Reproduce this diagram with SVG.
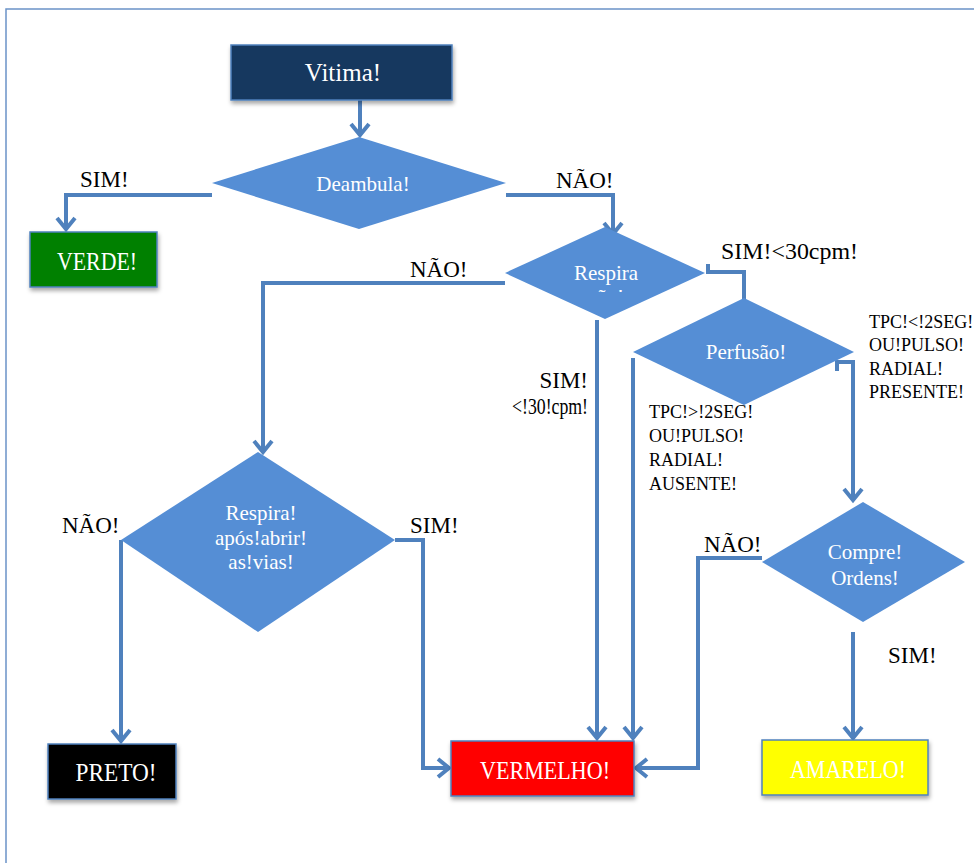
<svg xmlns="http://www.w3.org/2000/svg" width="974" height="863" viewBox="0 0 974 863">
<defs>
<style>
.box{stroke:#4f81bd;stroke-width:1.5;filter:url(#sh)}
.dia{fill:#558ed5;stroke:none}
.wt{fill:#ffffff;font-family:"Liberation Serif","DejaVu Serif",serif;text-anchor:middle}
.dt{font-size:21px}
.bt{font-size:25px}
.lb{fill:#000000;font-family:"Liberation Serif","DejaVu Serif",serif;font-size:23px}
.sm{fill:#000000;font-family:"Liberation Serif","DejaVu Serif",serif;font-size:18px}
.cn{fill:none;stroke:#4f81bd;stroke-width:4;stroke-linejoin:miter}
.ca{fill:none;stroke:#4f81bd;stroke-width:4;marker-end:url(#ah)}
</style>
<marker id="ah" markerUnits="userSpaceOnUse" markerWidth="24" markerHeight="24" viewBox="-13 -12 16 24" refX="0" refY="0" orient="auto">
<path d="M-11,-9 L0,0 L-11,9" fill="none" stroke="#4f81bd" stroke-width="4"/>
</marker>
<filter id="sh" x="-10%" y="-10%" width="130%" height="140%">
<feDropShadow dx="1" dy="3" stdDeviation="2" flood-color="#000" flood-opacity="0.35"/>
</filter>
<clipPath id="rc"><rect x="540" y="240" width="140" height="52"/></clipPath>
</defs>
<rect x="6" y="9" width="990" height="880" fill="#ffffff" stroke="#6b93c8" stroke-width="1.5"/>

<g id="connectors">
<path class="ca" d="M360,100 L360,135"/>
<path class="ca" d="M212,195 L66,195 L66,229"/>
<path class="ca" d="M506,195 L613,195 L613,234"/>
<path class="ca" d="M505,283 L263,283 L263,452"/>
<path class="ca" d="M597,320 L597,738"/>
<path class="cn" d="M708,264 L708,273"/>
<path class="ca" d="M706,272 L744,272 L744,316"/>
<path class="ca" d="M633,358 L633,738"/>
<path class="cn" d="M837,362 L837,371"/>
<path class="ca" d="M835,362 L853,362 L853,500"/>
<path class="ca" d="M121,540 L121,741"/>
<path class="ca" d="M395,540 L423,540 L423,768 L449,768"/>
<path class="ca" d="M762,558 L698,558 L698,768 L636,768"/>
<path class="ca" d="M853,632 L853,738"/>
</g>

<g id="vitima">
<rect class="box" x="231" y="45" width="221" height="55" fill="#17375e"/>
<text class="wt bt" x="343" y="81">Vitima!</text>
</g>
<g id="deambula">
<polygon class="dia" points="212,183 359,137 506,183 359,229"/>
<text class="wt dt" x="363" y="191">Deambula!</text>
</g>
<g id="verde">
<rect class="box" x="30" y="232" width="127" height="55" fill="#008000"/>
<text class="wt bt" x="97" y="270" textLength="80" lengthAdjust="spacingAndGlyphs">VERDE!</text>
</g>
<g id="respira">
<polygon class="dia" points="505,273 605,227 705,273 605,319"/>
<text class="wt dt" x="606" y="280">Respira</text>
<text class="wt dt" x="606" y="304" clip-path="url(#rc)">ção!</text>
</g>
<g id="perfusao">
<polygon class="dia" points="633,352 744,298 854,352 744,405"/>
<text class="wt dt" x="746" y="359">Perfusão!</text>
</g>
<g id="respira-apos">
<polygon class="dia" points="121,540 258,452 395,540 258,632"/>
<text class="wt dt" x="261" y="520">Respira!</text>
<text class="wt dt" x="261" y="545">após!abrir!</text>
<text class="wt dt" x="261" y="569">as!vias!</text>
</g>
<g id="compre">
<polygon class="dia" points="762,562 863,502 965,562 863,622"/>
<text class="wt dt" x="865" y="559">Compre!</text>
<text class="wt dt" x="865" y="585">Ordens!</text>
</g>
<g id="preto">
<rect class="box" x="48" y="744" width="128" height="55" fill="#000000"/>
<text class="wt bt" x="116" y="781" textLength="81" lengthAdjust="spacingAndGlyphs">PRETO!</text>
</g>
<g id="vermelho">
<rect class="box" x="451" y="741" width="183" height="55" fill="#ff0000"/>
<text class="wt bt" x="545" y="779" textLength="130" lengthAdjust="spacingAndGlyphs">VERMELHO!</text>
</g>
<g id="amarelo">
<rect class="box" x="762" y="740" width="166" height="55" fill="#ffff00"/>
<text class="wt bt" x="848" y="778" textLength="116" lengthAdjust="spacingAndGlyphs">AMARELO!</text>
</g>

<g id="labels">
<text class="lb" x="80" y="187">SIM!</text>
<text class="lb" x="556" y="188">NÃO!</text>
<text class="lb" x="721" y="259" font-size="24px" textLength="137" lengthAdjust="spacingAndGlyphs">SIM!&lt;30cpm!</text>
<text class="lb" x="410" y="277">NÃO!</text>
<text class="lb" x="588" y="388" text-anchor="end">SIM!</text>
<text class="lb" x="512" y="414" font-size="22px" textLength="76" lengthAdjust="spacingAndGlyphs">&lt;!30!cpm!</text>
<text class="sm" x="869" y="328">TPC!&lt;!2SEG!</text>
<text class="sm" x="869" y="351">OU!PULSO!</text>
<text class="sm" x="869" y="375">RADIAL!</text>
<text class="sm" x="869" y="398">PRESENTE!</text>
<text class="sm" x="649" y="418">TPC!&gt;!2SEG!</text>
<text class="sm" x="649" y="442">OU!PULSO!</text>
<text class="sm" x="649" y="466">RADIAL!</text>
<text class="sm" x="649" y="490">AUSENTE!</text>
<text class="lb" x="62" y="533">NÃO!</text>
<text class="lb" x="410" y="533">SIM!</text>
<text class="lb" x="704" y="552">NÃO!</text>
<text class="lb" x="888" y="663">SIM!</text>
</g>
</svg>
